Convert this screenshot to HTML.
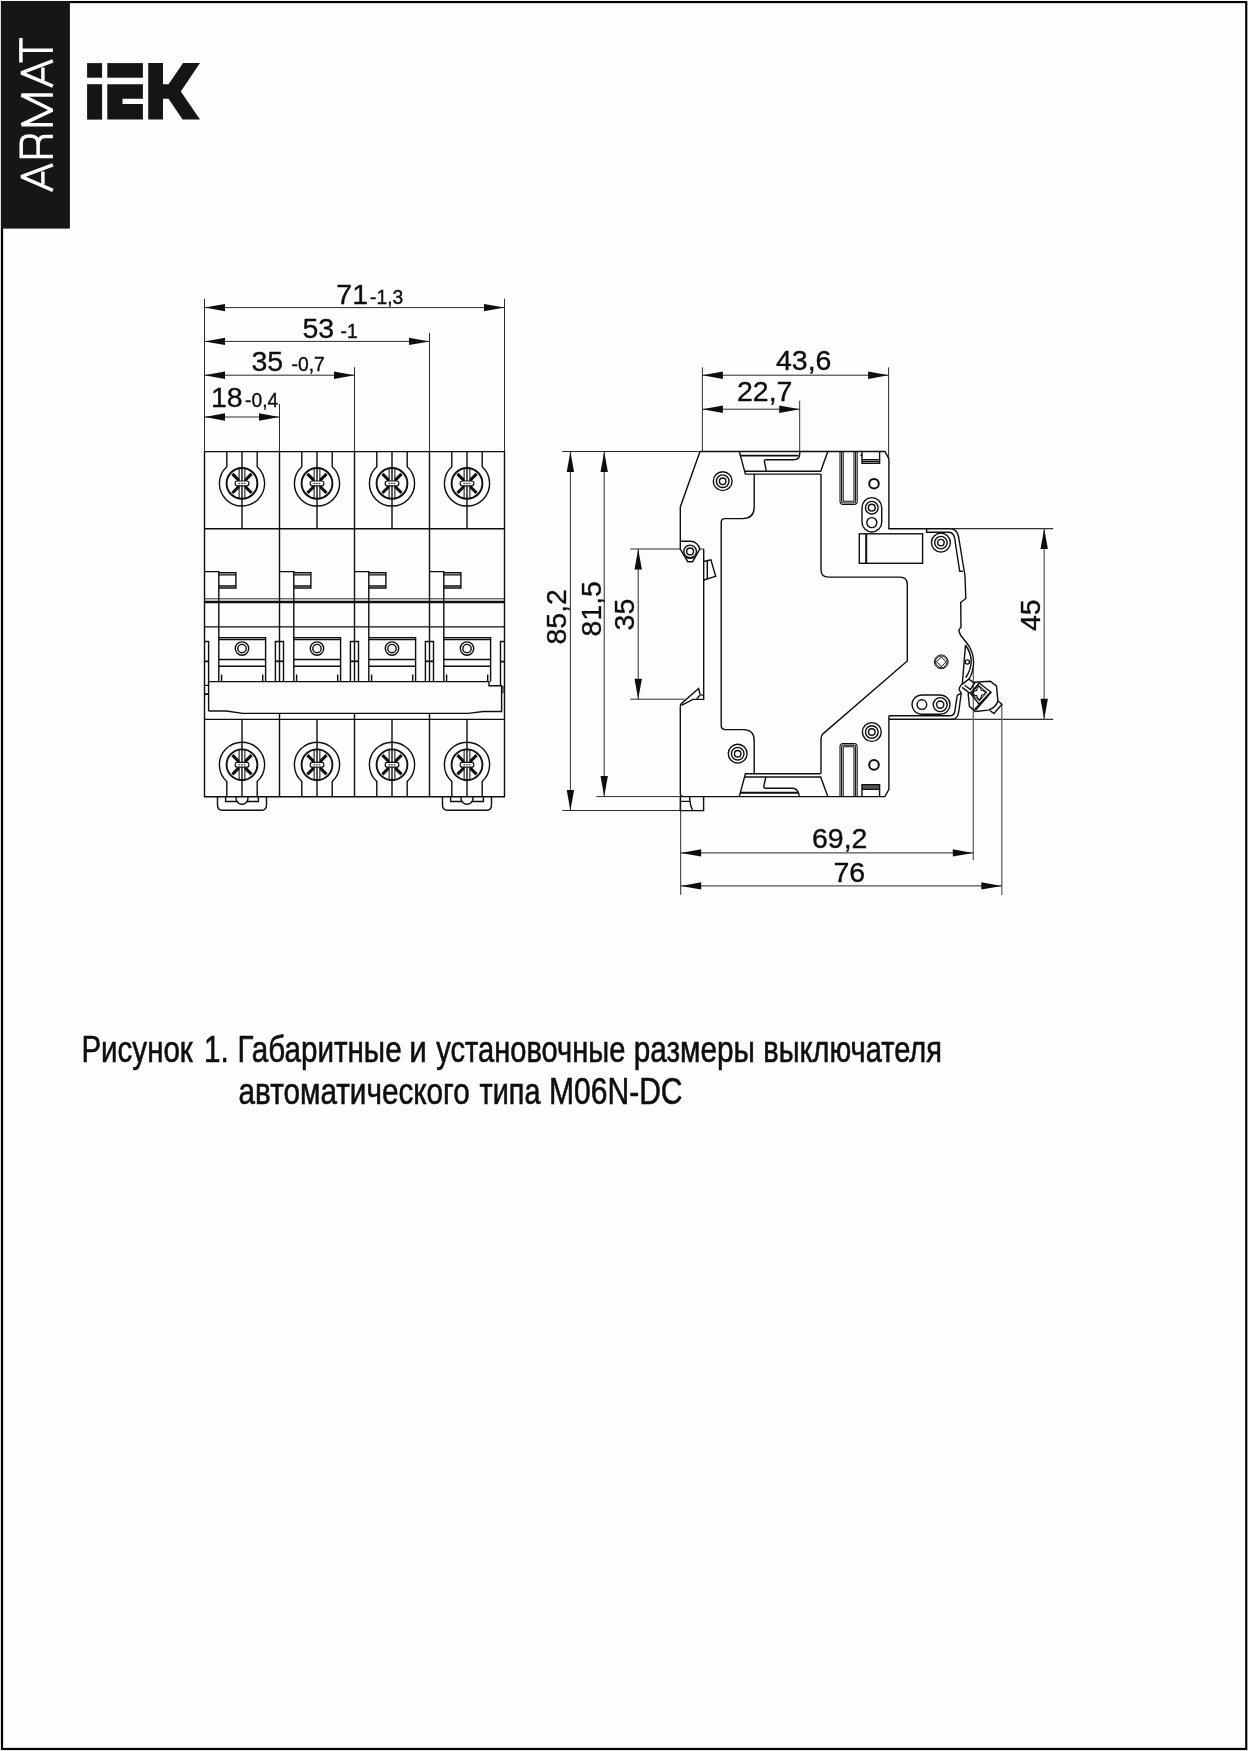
<!DOCTYPE html>
<html><head><meta charset="utf-8"><title>ARMAT M06N-DC</title>
<style>
html,body{margin:0;padding:0;background:#fdfdfd;}
body{width:1248px;height:1751px;overflow:hidden;position:relative;font-family:"Liberation Sans",sans-serif;}
svg{position:absolute;left:0;top:0;display:block;will-change:transform}
svg text{font-family:"Liberation Sans",sans-serif;fill:#0e0e0e;}
svg text.d{stroke:#0e0e0e;stroke-width:.35}
svg text.c{stroke:#0e0e0e;stroke-width:.6}
.o{fill:none;stroke:#0e0e0e;stroke-width:1.4}
.t{fill:none;stroke:#2a2a2a;stroke-width:1}
.g{fill:none;stroke:#666;stroke-width:1.3}
.k{fill:none;stroke:#0e0e0e;stroke-width:2.2}
.w{fill:#fdfdfd;stroke:#0e0e0e;stroke-width:1.35}
.f{fill:#0e0e0e;stroke:none}
</style></head><body>
<svg width="1248" height="1751" viewBox="0 0 1248 1751">
<rect x="0" y="0" width="1" height="1751" fill="#e4e4e4"/><rect x="0" y="1750" width="1248" height="1" fill="#e8e8e8"/>
<rect x="2.05" y="2.05" width="1244.2" height="1746.9" fill="none" stroke="#000" stroke-width="2.15"/>
<rect x="1" y="1" width="68.9" height="227.6" fill="#161616"/>
<g fill="#151515">
<rect x="87.1" y="63.1" width="15" height="14.6"/>
<rect x="87.1" y="84.2" width="15" height="35.4"/>
<rect x="107.3" y="63.1" width="35.6" height="14.6"/>
<path d="M107.3,84.2H142.9V98.75H122.5V104H142.9V119.6H107.3Z"/>
<path d="M148.2,63.1H163V84.2H168.5L183.1,63.1H200L180.8,91.5L200,119.6H182.6L168.5,98.75H163V119.6H148.2Z"/>
</g>
<g fill="none" stroke="#fff" stroke-width="3.5" stroke-linejoin="miter" stroke-miterlimit="2">
<path d="M52.9,190.4L21.3,176.6L52.9,164.8" stroke-linejoin="bevel"/>
<path d="M42.9,171.5V184.6"/>
<path d="M52.9,156.4H21.2V143Q21.2,136 29.6,136T38.1,143V156.4"/>
<path d="M38.1,144Q38.6,136.4 45,136.4H52.9"/>
<path d="M52.9,124.7H21.5L52.2,110.2L21.5,95.1H52.9" stroke-linejoin="bevel"/>
<path d="M52.9,86.2L21.3,72.8L52.9,60.9" stroke-linejoin="bevel"/>
<path d="M42.9,67.5V80.8"/>
<path d="M20.9,38V62.6M20.9,50.3H52.9"/>
</g>
<path class="t" d="M204.5,298.8V451.6M504.5,298.8V451.6M429.5,332.9V451.6M354.5,367.2V451.6M279.5,404V451.6"/>
<path class="t" d="M204.5,307.6H504.5"/>
<path class="f" d="M204.5,307.6L225.0,303.90000000000003L225.0,311.3Z"/>
<path class="f" d="M504.5,307.6L484.0,303.90000000000003L484.0,311.3Z"/>
<path class="t" d="M204.5,341.4H429.5"/>
<path class="f" d="M204.5,341.4L225.0,337.7L225.0,345.09999999999997Z"/>
<path class="f" d="M429.5,341.4L409.0,337.7L409.0,345.09999999999997Z"/>
<path class="t" d="M204.5,375.2H354.5"/>
<path class="f" d="M204.5,375.2L225.0,371.5L225.0,378.9Z"/>
<path class="f" d="M354.5,375.2L334.0,371.5L334.0,378.9Z"/>
<path class="t" d="M204.5,417.0H279.5"/>
<path class="f" d="M204.5,417.0L225.0,413.3L225.0,420.7Z"/>
<path class="f" d="M279.5,417.0L259.0,413.3L259.0,420.7Z"/>
<path class="o" d="M204.5,451.6H504.5V796.7H204.5Z"/>
<path class="o" d="M204.5,528.8H504.5M204.5,626.9H504.5M204.5,719.4H504.5"/>
<path class="t" d="M204.5,598.8H504.5"/>
<path class="k" d="M204.5,602H504.5" style="stroke-width:2.6"/>
<path class="o" d="M279.5,451.6V681.6M279.5,713.3V796.7"/>
<path class="o" d="M354.5,451.6V681.6M354.5,713.3V796.7"/>
<path class="o" d="M429.5,451.6V681.6M429.5,713.3V796.7"/>
<path class="o" d="M242.0,451.6V528.8M242.0,719.4V796.7"/>
<path class="o" d="M226.8,451.6V466.7A22.6,22.6 0 1 0 257.2,466.7V451.6"/>
<circle class="k" cx="242.0" cy="483.4" r="15.4" style="stroke-width:1.9"/>
<path d="M232.4,473.79999999999995L251.6,493.0M251.6,473.79999999999995L232.4,493.0" fill="none" stroke="#0e0e0e" stroke-width="3.1"/>
<path class="t" d="M239.2,468.4V498.4M244.8,468.4V498.4" style="stroke:#0e0e0e;stroke-width:1.2"/>
<rect x="239.8" y="469.4" width="4.4" height="28" fill="#fdfdfd"/>
<path class="o" d="M242.0,468.4V498.4"/>
<rect x="235.2" y="481.0" width="13.6" height="4.8" rx="2" class="w" style="stroke-width:1.2"/>
<path d="M238.5,483.4H245.5" stroke="#0e0e0e" stroke-width="1" stroke-dasharray="1.6 1"/>
<path class="o" d="M226.8,796.7V781.5A22.6,22.6 0 1 1 257.2,781.5V796.7"/>
<circle class="k" cx="242.0" cy="764.8" r="15.4" style="stroke-width:1.9"/>
<path d="M232.4,755.1999999999999L251.6,774.4M251.6,755.1999999999999L232.4,774.4" fill="none" stroke="#0e0e0e" stroke-width="3.1"/>
<path class="t" d="M239.2,749.8V779.8M244.8,749.8V779.8" style="stroke:#0e0e0e;stroke-width:1.2"/>
<rect x="239.8" y="750.8" width="4.4" height="28" fill="#fdfdfd"/>
<path class="o" d="M242.0,749.8V779.8"/>
<rect x="235.2" y="762.4" width="13.6" height="4.8" rx="2" class="w" style="stroke-width:1.2"/>
<path d="M238.5,764.8H245.5" stroke="#0e0e0e" stroke-width="1" stroke-dasharray="1.6 1"/>
<path class="o" d="M204.5,571.6H218.8V681.6"/>
<path class="o" d="M218.8,572.7H235.9V588H218.8"/>
<path class="o" d="M218.8,574.9H235.9M218.8,586H235.9"/>
<path class="o" d="M218.8,637.6H265.6V681.6"/>
<path class="o" d="M218.8,639.5H265.6M218.8,659.5H265.6M218.8,666.3H265.6"/>
<path class="o" d="M221.6,674.5V681.6M262.7,674.5V681.6"/>
<circle class="o" cx="242.0" cy="648.6" r="6.7"/>
<circle class="o" cx="242.0" cy="648.6" r="4.2"/>
<path class="o" d="M217.5,796.7V804.9000000000001Q217.5,810.3000000000001 223.0,810.3000000000001H261.0Q266.5,810.3000000000001 266.5,804.9000000000001V796.7"/>
<path class="o" d="M225.6,796.7V801.5H237.0M247.0,801.5H258.4V796.7"/>
<path class="o" d="M236.0,796.7V798.2A6,6 0 0 0 248.0,798.2V796.7"/>
<path class="o" d="M317.0,451.6V528.8M317.0,719.4V796.7"/>
<path class="o" d="M301.8,451.6V466.7A22.6,22.6 0 1 0 332.2,466.7V451.6"/>
<circle class="k" cx="317.0" cy="483.4" r="15.4" style="stroke-width:1.9"/>
<path d="M307.4,473.79999999999995L326.6,493.0M326.6,473.79999999999995L307.4,493.0" fill="none" stroke="#0e0e0e" stroke-width="3.1"/>
<path class="t" d="M314.2,468.4V498.4M319.8,468.4V498.4" style="stroke:#0e0e0e;stroke-width:1.2"/>
<rect x="314.8" y="469.4" width="4.4" height="28" fill="#fdfdfd"/>
<path class="o" d="M317.0,468.4V498.4"/>
<rect x="310.2" y="481.0" width="13.6" height="4.8" rx="2" class="w" style="stroke-width:1.2"/>
<path d="M313.5,483.4H320.5" stroke="#0e0e0e" stroke-width="1" stroke-dasharray="1.6 1"/>
<path class="o" d="M301.8,796.7V781.5A22.6,22.6 0 1 1 332.2,781.5V796.7"/>
<circle class="k" cx="317.0" cy="764.8" r="15.4" style="stroke-width:1.9"/>
<path d="M307.4,755.1999999999999L326.6,774.4M326.6,755.1999999999999L307.4,774.4" fill="none" stroke="#0e0e0e" stroke-width="3.1"/>
<path class="t" d="M314.2,749.8V779.8M319.8,749.8V779.8" style="stroke:#0e0e0e;stroke-width:1.2"/>
<rect x="314.8" y="750.8" width="4.4" height="28" fill="#fdfdfd"/>
<path class="o" d="M317.0,749.8V779.8"/>
<rect x="310.2" y="762.4" width="13.6" height="4.8" rx="2" class="w" style="stroke-width:1.2"/>
<path d="M313.5,764.8H320.5" stroke="#0e0e0e" stroke-width="1" stroke-dasharray="1.6 1"/>
<path class="o" d="M279.5,571.6H293.8V681.6"/>
<path class="o" d="M293.8,572.7H310.9V588H293.8"/>
<path class="o" d="M293.8,574.9H310.9M293.8,586H310.9"/>
<path class="o" d="M293.8,637.6H340.6V681.6"/>
<path class="o" d="M293.8,639.5H340.6M293.8,659.5H340.6M293.8,666.3H340.6"/>
<path class="o" d="M296.6,674.5V681.6M337.7,674.5V681.6"/>
<circle class="o" cx="317.0" cy="648.6" r="6.7"/>
<circle class="o" cx="317.0" cy="648.6" r="4.2"/>
<path class="o" d="M275.4,681.6V641.5H283.5V681.6"/>
<path class="k" d="M275.4,661.3H283.5" style="stroke-width:1.8"/>
<path class="o" d="M392.0,451.6V528.8M392.0,719.4V796.7"/>
<path class="o" d="M376.8,451.6V466.7A22.6,22.6 0 1 0 407.2,466.7V451.6"/>
<circle class="k" cx="392.0" cy="483.4" r="15.4" style="stroke-width:1.9"/>
<path d="M382.4,473.79999999999995L401.6,493.0M401.6,473.79999999999995L382.4,493.0" fill="none" stroke="#0e0e0e" stroke-width="3.1"/>
<path class="t" d="M389.2,468.4V498.4M394.8,468.4V498.4" style="stroke:#0e0e0e;stroke-width:1.2"/>
<rect x="389.8" y="469.4" width="4.4" height="28" fill="#fdfdfd"/>
<path class="o" d="M392.0,468.4V498.4"/>
<rect x="385.2" y="481.0" width="13.6" height="4.8" rx="2" class="w" style="stroke-width:1.2"/>
<path d="M388.5,483.4H395.5" stroke="#0e0e0e" stroke-width="1" stroke-dasharray="1.6 1"/>
<path class="o" d="M376.8,796.7V781.5A22.6,22.6 0 1 1 407.2,781.5V796.7"/>
<circle class="k" cx="392.0" cy="764.8" r="15.4" style="stroke-width:1.9"/>
<path d="M382.4,755.1999999999999L401.6,774.4M401.6,755.1999999999999L382.4,774.4" fill="none" stroke="#0e0e0e" stroke-width="3.1"/>
<path class="t" d="M389.2,749.8V779.8M394.8,749.8V779.8" style="stroke:#0e0e0e;stroke-width:1.2"/>
<rect x="389.8" y="750.8" width="4.4" height="28" fill="#fdfdfd"/>
<path class="o" d="M392.0,749.8V779.8"/>
<rect x="385.2" y="762.4" width="13.6" height="4.8" rx="2" class="w" style="stroke-width:1.2"/>
<path d="M388.5,764.8H395.5" stroke="#0e0e0e" stroke-width="1" stroke-dasharray="1.6 1"/>
<path class="o" d="M354.5,571.6H368.8V681.6"/>
<path class="o" d="M368.8,572.7H385.9V588H368.8"/>
<path class="o" d="M368.8,574.9H385.9M368.8,586H385.9"/>
<path class="o" d="M368.8,637.6H415.6V681.6"/>
<path class="o" d="M368.8,639.5H415.6M368.8,659.5H415.6M368.8,666.3H415.6"/>
<path class="o" d="M371.6,674.5V681.6M412.7,674.5V681.6"/>
<circle class="o" cx="392.0" cy="648.6" r="6.7"/>
<circle class="o" cx="392.0" cy="648.6" r="4.2"/>
<path class="o" d="M350.4,681.6V641.5H358.5V681.6"/>
<path class="k" d="M350.4,661.3H358.5" style="stroke-width:1.8"/>
<path class="o" d="M467.0,451.6V528.8M467.0,719.4V796.7"/>
<path class="o" d="M451.8,451.6V466.7A22.6,22.6 0 1 0 482.2,466.7V451.6"/>
<circle class="k" cx="467.0" cy="483.4" r="15.4" style="stroke-width:1.9"/>
<path d="M457.4,473.79999999999995L476.6,493.0M476.6,473.79999999999995L457.4,493.0" fill="none" stroke="#0e0e0e" stroke-width="3.1"/>
<path class="t" d="M464.2,468.4V498.4M469.8,468.4V498.4" style="stroke:#0e0e0e;stroke-width:1.2"/>
<rect x="464.8" y="469.4" width="4.4" height="28" fill="#fdfdfd"/>
<path class="o" d="M467.0,468.4V498.4"/>
<rect x="460.2" y="481.0" width="13.6" height="4.8" rx="2" class="w" style="stroke-width:1.2"/>
<path d="M463.5,483.4H470.5" stroke="#0e0e0e" stroke-width="1" stroke-dasharray="1.6 1"/>
<path class="o" d="M451.8,796.7V781.5A22.6,22.6 0 1 1 482.2,781.5V796.7"/>
<circle class="k" cx="467.0" cy="764.8" r="15.4" style="stroke-width:1.9"/>
<path d="M457.4,755.1999999999999L476.6,774.4M476.6,755.1999999999999L457.4,774.4" fill="none" stroke="#0e0e0e" stroke-width="3.1"/>
<path class="t" d="M464.2,749.8V779.8M469.8,749.8V779.8" style="stroke:#0e0e0e;stroke-width:1.2"/>
<rect x="464.8" y="750.8" width="4.4" height="28" fill="#fdfdfd"/>
<path class="o" d="M467.0,749.8V779.8"/>
<rect x="460.2" y="762.4" width="13.6" height="4.8" rx="2" class="w" style="stroke-width:1.2"/>
<path d="M463.5,764.8H470.5" stroke="#0e0e0e" stroke-width="1" stroke-dasharray="1.6 1"/>
<path class="o" d="M429.5,571.6H443.8V681.6"/>
<path class="o" d="M443.8,572.7H460.9V588H443.8"/>
<path class="o" d="M443.8,574.9H460.9M443.8,586H460.9"/>
<path class="o" d="M443.8,637.6H490.6V681.6"/>
<path class="o" d="M443.8,639.5H490.6M443.8,659.5H490.6M443.8,666.3H490.6"/>
<path class="o" d="M446.6,674.5V681.6M487.7,674.5V681.6"/>
<circle class="o" cx="467.0" cy="648.6" r="6.7"/>
<circle class="o" cx="467.0" cy="648.6" r="4.2"/>
<path class="o" d="M425.4,681.6V641.5H433.5V681.6"/>
<path class="k" d="M425.4,661.3H433.5" style="stroke-width:1.8"/>
<path class="o" d="M442.5,796.7V804.9000000000001Q442.5,810.3000000000001 448.0,810.3000000000001H486.0Q491.5,810.3000000000001 491.5,804.9000000000001V796.7"/>
<path class="o" d="M450.6,796.7V801.5H462.0M472.0,801.5H483.4V796.7"/>
<path class="o" d="M461.0,796.7V798.2A6,6 0 0 0 473.0,798.2V796.7"/>
<path class="o" d="M204.5,641.5H208.6V711M204.5,685.4H208.6"/>
<path class="k" d="M204.5,661.3H208.6M204.5,694.2H208.6" style="stroke-width:1.8"/>
<path class="o" d="M504.5,641.5H500.5V685.8"/>
<path class="k" d="M500.5,661.6H504.5" style="stroke-width:1.8"/>
<path class="g" d="M503,685.8V693.4" style="stroke-width:2.2"/>
<path class="o" d="M208.6,681.6H489V685.8H501.6V711.5H483.3L468.2,713.4H242.7L226.3,711H208.6"/>
<path class="t" d="M562.3,451.5H700M702.4,367.4V451.5M888.6,367.4V459"/>
<path class="t" d="M562.3,810.5H703.6M596.4,796.6H681M630.2,549H680.2M699.6,549H704M630.2,699.2H684.5"/>
<path class="t" d="M952,528.6H1053.2M952,719.3H1053.2" style="stroke:#333;stroke-width:1.2"/>
<path class="t" d="M680.7,796.6V894.9"/>
<path class="g" d="M973.3,668V860.3M1001.8,704.5V894.9"/>
<path class="t" d="M702.4,375.2H888.6"/>
<path class="f" d="M702.4,375.2L722.9,371.5L722.9,378.9Z"/>
<path class="f" d="M888.6,375.2L868.1,371.5L868.1,378.9Z"/>
<path class="t" d="M702.4,409.2H799.7"/>
<path class="f" d="M702.4,409.2L722.9,405.5L722.9,412.9Z"/>
<path class="f" d="M799.7,409.2L779.2,405.5L779.2,412.9Z"/>
<path class="t" d="M570.4,451.5V810.5"/>
<path class="f" d="M570.4,451.5L566.6999999999999,472.0L574.1,472.0Z"/>
<path class="f" d="M570.4,810.5L566.6999999999999,790.0L574.1,790.0Z"/>
<path class="t" d="M604.2,451.5V796.6"/>
<path class="f" d="M604.2,451.5L600.5,472.0L607.9000000000001,472.0Z"/>
<path class="f" d="M604.2,796.6L600.5,776.1L607.9000000000001,776.1Z"/>
<path class="t" d="M638.2,549V699.2"/>
<path class="f" d="M638.2,549L634.5,569.5L641.9000000000001,569.5Z"/>
<path class="f" d="M638.2,699.2L634.5,678.7L641.9000000000001,678.7Z"/>
<path class="g" d="M1044.2,528.6V719.3"/>
<path class="f" d="M1044.2,528.6L1040.5,549.1L1047.9,549.1Z"/>
<path class="f" d="M1044.2,719.3L1040.5,698.8L1047.9,698.8Z"/>
<path class="t" d="M680.7,852.9H973.3"/>
<path class="f" d="M680.7,852.9L701.2,849.1999999999999L701.2,856.6Z"/>
<path class="f" d="M973.3,852.9L952.8,849.1999999999999L952.8,856.6Z"/>
<path class="t" d="M680.7,885.9H1001.8"/>
<path class="f" d="M680.7,885.9L701.2,882.1999999999999L701.2,889.6Z"/>
<path class="f" d="M1001.8,885.9L981.3,882.1999999999999L981.3,889.6Z"/>
<path class="o" d="M700,451.5H884.9L888.9,458.8V528.8H950.6Q957,529 958.6,537L965,576L965.8,598.5L960.7,602.5L961,627.3Q958.3,629.5 959.1,631.5L960.6,635.3L965.8,641.7Q975.3,653 973.2,667Q972,675 968.75,679.1"/>
<path class="o" d="M926.6,528.8V532.2H949Q953.6,532.5 954.6,538L959.7,571.3H962.8"/>
<path class="o" d="M700,451.5L680.3,506.9V549.2"/>
<path class="o" d="M680.3,541.3H690.2A9.6,9.6 0 0 1 699.8,549.2L692.6,561.7H687.8L680.3,549.2"/>
<circle class="o" cx="690.1" cy="551.4" r="6.3" />
<circle class="o" cx="690.1" cy="551.4" r="3.4" />
<path class="o" d="M686,557.2Q690.1,559.6 694.2,557.2"/>
<path class="o" d="M703.7,549V699.4H693L681.5,705.3"/>
<path class="o" d="M703.7,561.5L710.9,559.8L715.7,576.4L703.7,580M707.3,560.8V578.9"/>
<path class="o" d="M680.3,706.7Q680.3,704.5 681.6,703.4L698.6,688.5L700,694Q700.6,695.4 703.4,695.4M696.7,698.8L700,695.2"/>
<path class="o" d="M680.3,706.7V793.4Q680.3,796.6 683.7,796.6H884.9L888.9,789.4V715.7"/>
<path class="o" d="M680.3,796.6V810.6H703.6V796.6M680.3,801.4H689.6M689.6,796.6Q690,806 692.9,810.6"/>
<path class="o" d="M739.3,451.5L745.4,474.1H820.7M745,471.3H820.7L827.8,451.5"/>
<path class="k" d="M741,455.6H798.6" style="stroke-width:1.9"/>
<path class="t" d="M799.7,400.6V452"/>
<path class="o" d="M799.7,452V454Q799.7,459.8 793.5,459.8H766Q764,459.8 764.4,461.6L766.4,471.3"/>
<path class="o" d="M754.2,474.1V507Q754.2,518.6 742.6,518.6H724.9Q721.2,518.6 721.2,522.3V725.6Q721.2,729.6 725.2,729.6H743.3Q754.2,729.6 754.2,740.5V773.8"/>
<path class="o" d="M739.3,796.6L745.4,773.8H820.7M745,777H820.7L827.8,796.6"/>
<path class="o" d="M765.8,777L763.8,786.3Q763.6,788.3 765.6,788.3H793Q797.6,788.3 799.4,795.8"/>
<path class="k" d="M740.6,792.7H798.4" style="stroke-width:1.9"/>
<path class="o" d="M821,474.1V569.4Q821,577.1 828.7,577.1H900.1Q907.3,577.1 907.3,584.3V661L823.2,733.6Q821,735.6 821,738.5V773.8"/>
<circle class="o" cx="722.7" cy="481.2" r="9.4" />
<circle class="o" cx="722.7" cy="481.2" r="6.3" />
<circle class="o" cx="722.7" cy="481.2" r="3.25" />
<circle class="o" cx="737.7" cy="753.7" r="9.4" />
<circle class="o" cx="737.7" cy="753.7" r="6.3" />
<circle class="o" cx="737.7" cy="753.7" r="3.25" />
<circle class="o" cx="940.9" cy="542.6" r="9.5" />
<circle class="o" cx="940.9" cy="542.6" r="6.25" />
<circle class="o" cx="940.9" cy="542.6" r="3.25" />
<circle class="o" cx="871.8" cy="732" r="9.4" />
<circle class="o" cx="871.8" cy="732" r="6.3" />
<circle class="o" cx="871.8" cy="732" r="3.25" />
<path class="t" style="stroke:#0e0e0e;stroke-width:1.05" d="M840,451.5V501.3Q840,504.5 843.2,504.5H854.0Q857.2,504.5 857.2,501.3V451.5"/>
<path class="t" style="stroke:#0e0e0e;stroke-width:1.05" d="M841.6,451.5V500.9Q841.6,502.9 843.6,502.9H853.6Q855.6,502.9 855.6,500.9V451.5"/>
<path class="t" style="stroke:#0e0e0e;stroke-width:1.05" d="M843.2,451.5V500.3Q843.2,501.3 844.2,501.3H853.0Q854.0,501.3 854.0,500.3V451.5"/>
<path class="t" style="stroke:#0e0e0e;stroke-width:1.05" d="M840,796.6V746.7Q840,743.5 843.2,743.5H854.0Q857.2,743.5 857.2,746.7V796.6"/>
<path class="t" style="stroke:#0e0e0e;stroke-width:1.05" d="M841.6,796.6V747.1Q841.6,745.1 843.6,745.1H853.6Q855.6,745.1 855.6,747.1V796.6"/>
<path class="t" style="stroke:#0e0e0e;stroke-width:1.05" d="M843.2,796.6V747.7Q843.2,746.7 844.2,746.7H853.0Q854.0,746.7 854.0,747.7V796.6"/>
<path class="o" d="M862,451.5V463.3H879.6V451.5M862,459.6H879.6M862,461.4H879.6"/>
<circle class="f" cx="861.3" cy="455.2" r="1"/>
<rect x="862" y="784.6" width="17.6" height="4.8" fill="#555"/>
<path class="o" d="M862,796.6V784.6H879.6V796.6M862,789.4H879.6"/>
<circle class="k" cx="874" cy="483.7" r="4.8" style="stroke-width:2"/>
<circle class="k" cx="874" cy="764.9" r="4.8" style="stroke-width:2"/>
<rect class="o" x="862" y="497.6" width="19.7" height="34.4" rx="9.85"/>
<circle class="o" cx="871.8" cy="507.7" r="6.3" />
<circle class="o" cx="871.8" cy="507.7" r="3.4" />
<circle class="o" cx="871.8" cy="522.6" r="5" />
<rect class="o" x="859.3" y="533.8" width="63.3" height="29.5"/>
<path class="k" d="M866.2,533.8V563.3" style="stroke-width:2"/>
<circle class="t" cx="941.3" cy="661.8" r="6.9" style="stroke:#0e0e0e"/>
<circle class="t" cx="941.3" cy="661.8" r="5.8" style="stroke:#0e0e0e"/>
<path class="t" style="stroke:#151515" d="M941.3,657L946.1,661.8L941.3,666.6L936.5,661.8Z"/>
<rect class="o" x="912" y="695" width="38" height="19.2" rx="9.6"/>
<circle class="o" cx="921.9" cy="704.6" r="4.8" />
<circle class="o" cx="940.2" cy="704.6" r="7" />
<circle class="o" cx="940.2" cy="704.6" r="3.6" />
<path class="o" d="M965.4,645Q976.8,661 965.8,677.5"/>
<path class="o" d="M965.4,646L963.3,672L962.3,683.7Q958.4,688 959.3,690L961.25,693.25L958.7,712Q957.8,719 952,719.3H888.9"/>
<path class="o" d="M961,693.6Q957.3,694.5 957.1,696.2L954.8,711.5Q954,715.6 950,715.7H888.9"/>
<circle class="o" cx="967.3" cy="662" r="2.1" />
<path class="o" d="M973.75,682.2L990.4,681.2L996.5,686.2L997.9,700.75Q996.5,707 988.3,710.1L975.4,711.4L969.4,706.4L968.3,695.3V692.8"/>
<path class="o" d="M997.9,700.75L1001.9,704.3L994,713.5L989.8,710.5"/>
<path class="o" d="M979.2,683L990.8,692L979.2,704.1L970.4,693.25Z"/>
<path class="t" style="stroke:#151515" d="M978.1,685.1L986.9,692.2L979.4,700.75L971.7,693.5Z"/>
<path class="f" d="M990.8,692L991.3,692.6L975.9,710.3L974.6,709.1L979.2,704.1Z" style="stroke:#151515;stroke-width:1"/>
<path class="o" style="stroke-width:1.15" d="M977.2,688.3L978.8,685.9L980.8,688.3L981.3,690.3L983.3,690.6L985.8,692.6L983.5,694.8L981.6,695.3L981.3,697.4L979.4,700L977.3,697.6L976.7,695.6L974.6,695.2L972.5,693.2L974.5,691L976.6,690.5Z"/>
<path class="o" d="M962.5,684.1L968.75,679.1L974.6,683.25L970.4,689.5L964.6,685.3M962.1,687.4L968.75,692.4L970.4,693.25"/>
<text class="d" x="336.3" y="303.8" font-size="28.5" >71</text>
<text class="d" x="370" y="303.8" font-size="19.3" >-1,3</text>
<text class="d" x="302.5" y="337.5" font-size="28.5" >53</text>
<text class="d" x="340.5" y="337.5" font-size="19.3" >-1</text>
<text class="d" x="251.5" y="371.2" font-size="28.5" >35</text>
<text class="d" x="291.5" y="371.2" font-size="19.3" >-0,7</text>
<text class="d" x="211" y="406.7" font-size="28.5" >18</text>
<text class="d" x="245" y="406.7" font-size="19.3" >-0,4</text>
<text class="d" x="776" y="370.4" font-size="28.5" >43,6</text>
<text class="d" x="737" y="400.9" font-size="28.5" >22,7</text>
<text class="d" x="812" y="848" font-size="28.5" >69,2</text>
<text class="d" x="833.5" y="882" font-size="28.5" >76</text>
<text class="d" transform="translate(566.3,644.5) rotate(-90)" font-size="28.5">85,2</text>
<text class="d" transform="translate(600.5,636.5) rotate(-90)" font-size="28.5">81,5</text>
<text class="d" transform="translate(634.4,630.4) rotate(-90)" font-size="28.5">35</text>
<text class="d" transform="translate(1040.0,631.0) rotate(-90)" font-size="28.5">45</text>
<text class="c" x="81.4" y="1061.9" font-size="37.5" textLength="111.4" lengthAdjust="spacingAndGlyphs">Рисунок</text>
<text class="c" x="204.0" y="1061.9" font-size="37.5" textLength="24.8" lengthAdjust="spacingAndGlyphs">1.</text>
<text class="c" x="237.4" y="1061.9" font-size="37.5" textLength="164.2" lengthAdjust="spacingAndGlyphs">Габаритные</text>
<text class="c" transform="translate(409.3,1061.9) scale(0.84,1)" font-size="37.5">и</text>
<text class="c" x="436.3" y="1061.9" font-size="37.5" textLength="189.0" lengthAdjust="spacingAndGlyphs">установочные</text>
<text class="c" x="633.7" y="1061.9" font-size="37.5" textLength="121.3" lengthAdjust="spacingAndGlyphs">размеры</text>
<text class="c" x="763.3" y="1061.9" font-size="37.5" textLength="178.7" lengthAdjust="spacingAndGlyphs">выключателя</text>
<text class="c" x="238.6" y="1104.3" font-size="37.5" textLength="231.2" lengthAdjust="spacingAndGlyphs">автоматического</text>
<text class="c" x="479.6" y="1104.3" font-size="37.5" textLength="60.8" lengthAdjust="spacingAndGlyphs">типа</text>
<text class="c" x="548.9" y="1104.3" font-size="37.5" textLength="133.7" lengthAdjust="spacingAndGlyphs">M06N-DC</text>
</svg>
</body></html>
